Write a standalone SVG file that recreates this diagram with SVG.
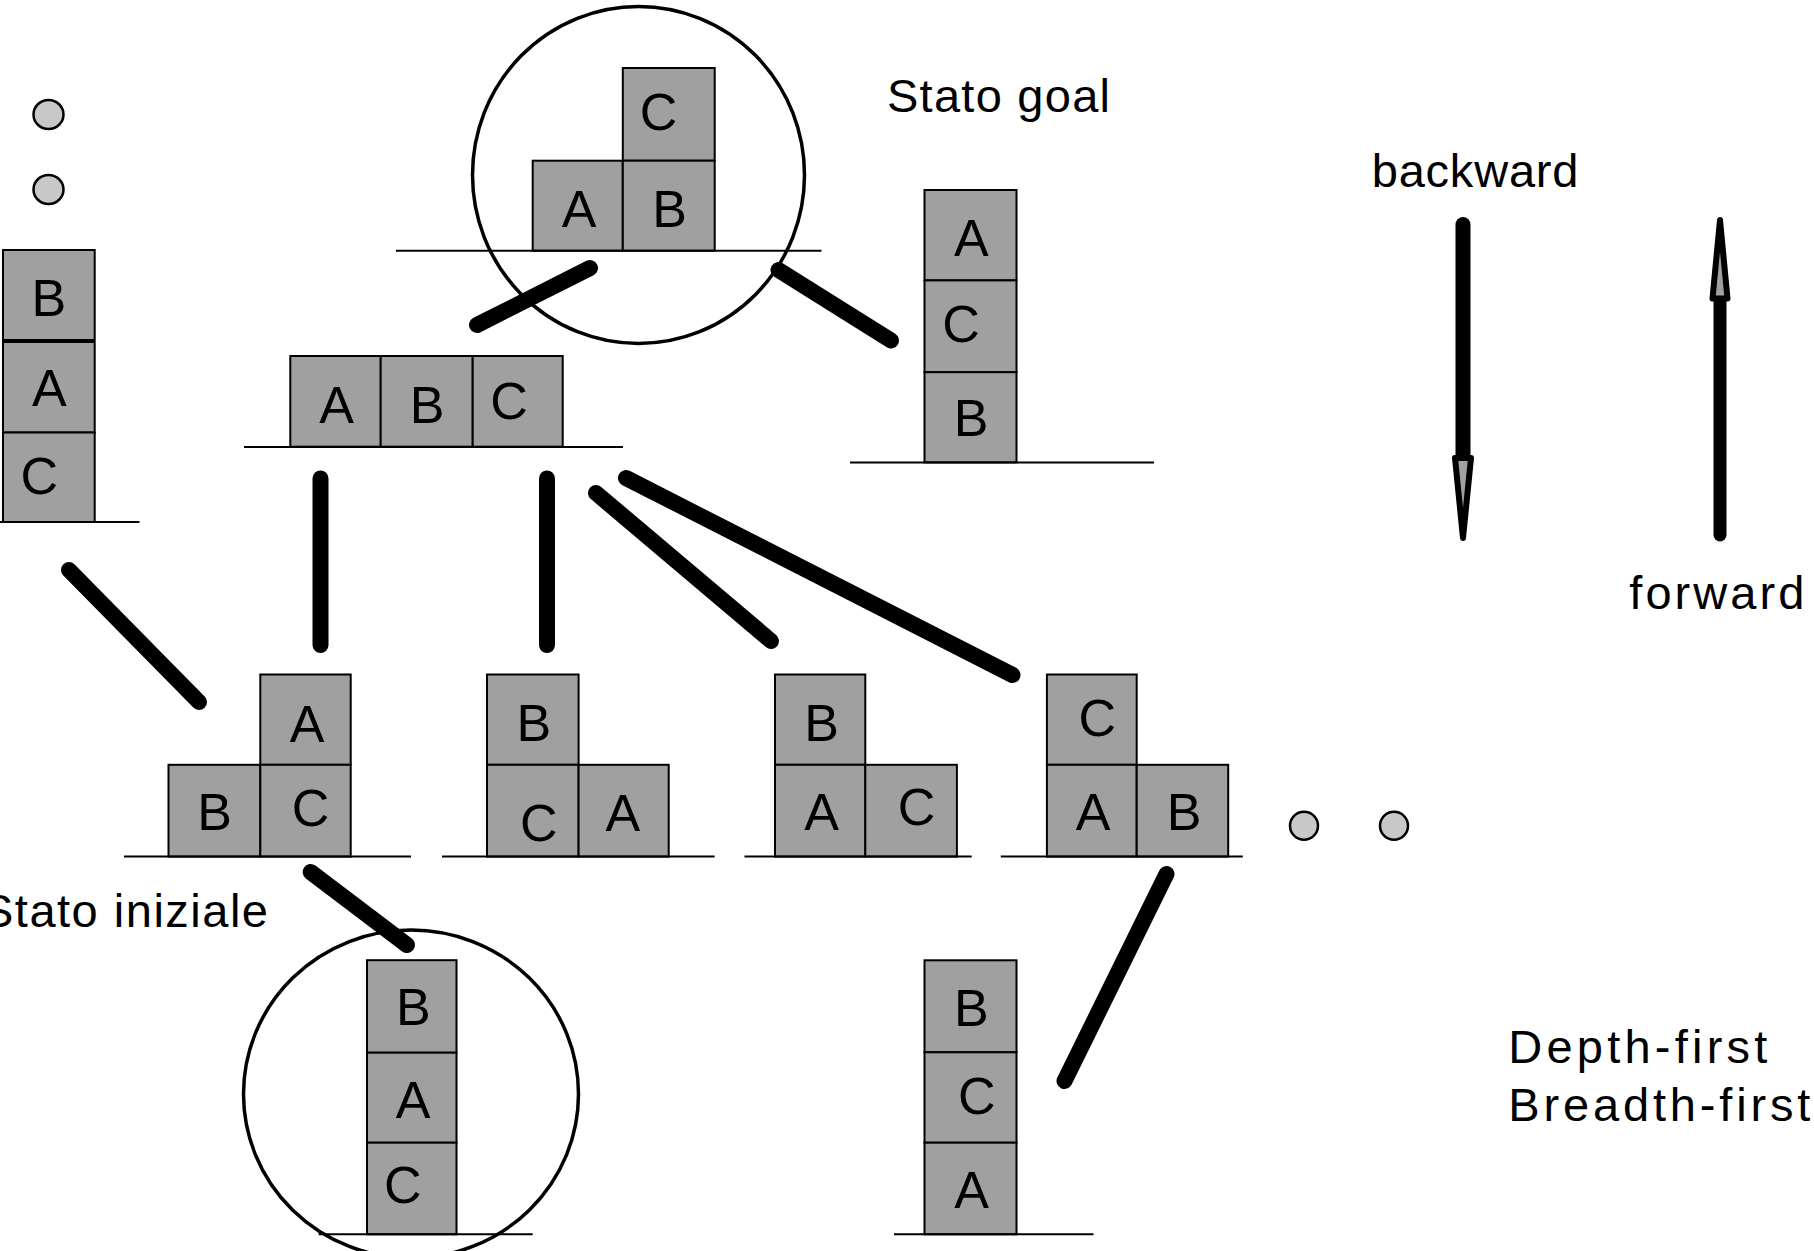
<svg xmlns="http://www.w3.org/2000/svg" width="1814" height="1251" viewBox="0 0 1814 1251">
<style>
.blk{fill:#a0a0a0;stroke:#000;stroke-width:2}
.gnd{stroke:#000;stroke-width:2;fill:none}
.let{font-family:"Liberation Sans",Arial,sans-serif;font-size:52px;fill:#000;text-anchor:middle}
.lbl{font-family:"Liberation Sans",Arial,sans-serif;font-size:47px;fill:#000}
.con{stroke:#000;stroke-width:16;stroke-linecap:round;fill:none}
.ring{fill:none;stroke:#000;stroke-width:3.5}
.dot{fill:#c8c8c8;stroke:#000;stroke-width:2.5}
.head{fill:#a0a0a0;stroke:#000;stroke-width:6;stroke-linejoin:round}
</style>
<rect width="1814" height="1251" fill="#fff"/>

<g id="connectors">
<line class="con" x1="590" y1="268" x2="477" y2="325"/>
<line class="con" x1="778.5" y1="270" x2="891" y2="340.5"/>
<line class="con" x1="69" y1="570" x2="199" y2="702"/>
<line class="con" x1="320.5" y1="478.5" x2="320.5" y2="645"/>
<line class="con" x1="547" y1="478.5" x2="547" y2="645"/>
<line class="con" x1="596" y1="493" x2="771" y2="641"/>
<line class="con" x1="626" y1="478" x2="1012.5" y2="675"/>
<line class="con" x1="310.6" y1="872" x2="407" y2="945"/>
<line class="con" x1="1166.5" y1="874" x2="1064.5" y2="1081"/>
</g>

<g id="dots-left">
<ellipse class="dot" cx="48.5" cy="114.5" rx="15" ry="14.5"/>
<ellipse class="dot" cx="48.5" cy="189.5" rx="15" ry="14.5"/>
</g>

<g id="stack-BAC-left">
<rect class="blk" x="3" y="250" width="91.7" height="90"/>
<rect class="blk" x="3" y="342" width="91.7" height="90.5"/>
<rect class="blk" x="3" y="432.5" width="91.7" height="89.5"/>
<line class="gnd" x1="0" y1="522" x2="139.5" y2="522"/>
<text class="let" x="48.8" y="316">B</text>
<text class="let" x="49.4" y="406.4">A</text>
<text class="let" x="39.3" y="493.5">C</text>
</g>

<g id="goal">
<ellipse class="ring" cx="638.5" cy="175" rx="166" ry="168.5"/>
<rect class="blk" x="622.8" y="68" width="91.9" height="92.7"/>
<rect class="blk" x="532.7" y="160.7" width="90.1" height="90"/>
<rect class="blk" x="622.8" y="160.7" width="91.9" height="90"/>
<line class="gnd" x1="396" y1="250.7" x2="821.5" y2="250.7"/>
<text class="let" x="658.5" y="130">C</text>
<text class="let" x="579" y="226.8">A</text>
<text class="let" x="669.7" y="226.8">B</text>
</g>

<g id="state-ABC">
<rect class="blk" x="290.3" y="356" width="90.4" height="90.7"/>
<rect class="blk" x="380.7" y="356" width="92" height="90.7"/>
<rect class="blk" x="472.7" y="356" width="90" height="90.7"/>
<line class="gnd" x1="244" y1="447" x2="623" y2="447"/>
<text class="let" x="336.7" y="422.7">A</text>
<text class="let" x="427" y="422.7">B</text>
<text class="let" x="509" y="418.5">C</text>
</g>

<g id="stack-ACB">
<rect class="blk" x="924.5" y="190" width="92" height="90.4"/>
<rect class="blk" x="924.5" y="280.4" width="92" height="91.8"/>
<rect class="blk" x="924.5" y="372.2" width="92" height="90.2"/>
<line class="gnd" x1="850" y1="462.5" x2="1154" y2="462.5"/>
<text class="let" x="971.4" y="256.3">A</text>
<text class="let" x="961" y="341.5">C</text>
<text class="let" x="971" y="436">B</text>
</g>

<g id="state-BC-A">
<rect class="blk" x="260.3" y="674.5" width="90.4" height="90.3"/>
<rect class="blk" x="168.5" y="764.8" width="91.8" height="91.8"/>
<rect class="blk" x="260.3" y="764.8" width="90.4" height="91.8"/>
<line class="gnd" x1="124" y1="856.6" x2="411" y2="856.6"/>
<text class="let" x="307.1" y="741.6">A</text>
<text class="let" x="214.7" y="829.7">B</text>
<text class="let" x="310.5" y="825.6">C</text>
</g>

<g id="state-B-CA">
<rect class="blk" x="487" y="674.5" width="91.6" height="90.3"/>
<rect class="blk" x="487" y="764.8" width="91.6" height="91.8"/>
<rect class="blk" x="578.6" y="764.8" width="90.1" height="91.8"/>
<line class="gnd" x1="442" y1="856.6" x2="714.6" y2="856.6"/>
<text class="let" x="533.9" y="740.7">B</text>
<text class="let" x="538.7" y="841">C</text>
<text class="let" x="622.8" y="831">A</text>
</g>

<g id="state-B-AC">
<rect class="blk" x="775" y="674.5" width="90.3" height="90.3"/>
<rect class="blk" x="775" y="764.8" width="90.3" height="91.8"/>
<rect class="blk" x="865.3" y="764.8" width="91.6" height="91.8"/>
<line class="gnd" x1="744.5" y1="856.6" x2="971.7" y2="856.6"/>
<text class="let" x="821.7" y="740.7">B</text>
<text class="let" x="821.7" y="829.7">A</text>
<text class="let" x="916.6" y="825.3">C</text>
</g>

<g id="state-C-AB">
<rect class="blk" x="1046.9" y="674.5" width="89.8" height="90.3"/>
<rect class="blk" x="1046.9" y="764.8" width="89.8" height="91.8"/>
<rect class="blk" x="1136.7" y="764.8" width="91.5" height="91.8"/>
<line class="gnd" x1="1000.8" y1="856.6" x2="1242.8" y2="856.6"/>
<text class="let" x="1097.3" y="735.6">C</text>
<text class="let" x="1093.2" y="830.2">A</text>
<text class="let" x="1184.2" y="830.2">B</text>
</g>

<g id="dots-right">
<ellipse class="dot" cx="1304" cy="825.7" rx="14" ry="14"/>
<ellipse class="dot" cx="1394" cy="825.7" rx="14" ry="14"/>
</g>

<g id="initial">
<ellipse class="ring" cx="411" cy="1094" rx="167.5" ry="164"/>
<rect class="blk" x="367" y="960.2" width="89.5" height="92.5"/>
<rect class="blk" x="367" y="1052.7" width="89.5" height="90"/>
<rect class="blk" x="367" y="1142.7" width="89.5" height="91.6"/>
<line class="gnd" x1="318.6" y1="1234.3" x2="532.7" y2="1234.3"/>
<text class="let" x="413.3" y="1025">B</text>
<text class="let" x="413" y="1117.5">A</text>
<text class="let" x="402.7" y="1203.3">C</text>
</g>

<g id="stack-BCA">
<rect class="blk" x="924.5" y="960.3" width="92" height="92"/>
<rect class="blk" x="924.5" y="1052.3" width="92" height="90.4"/>
<rect class="blk" x="924.5" y="1142.7" width="92" height="91.6"/>
<line class="gnd" x1="894" y1="1234.3" x2="1093.5" y2="1234.3"/>
<text class="let" x="971.4" y="1025.8">B</text>
<text class="let" x="976.7" y="1114.4">C</text>
<text class="let" x="971.5" y="1208.2">A</text>
</g>

<g id="arrow-backward">
<line x1="1463" y1="224.5" x2="1463" y2="460" stroke="#000" stroke-width="15" stroke-linecap="round"/>
<polygon class="head" points="1455,458 1471,458 1463,538"/>
</g>

<g id="arrow-forward">
<line x1="1720" y1="299" x2="1720" y2="535" stroke="#000" stroke-width="13" stroke-linecap="round"/>
<polygon class="head" points="1720,220 1712.5,298.5 1727.5,298.5"/>
</g>

<g id="labels">
<text class="lbl" x="887" y="111.7" textLength="223">Stato goal</text>
<text class="lbl" x="1371.7" y="187.3" textLength="206.7">backward</text>
<text class="lbl" x="1629.3" y="609.3" textLength="175">forward</text>
<text class="lbl" x="-18" y="926.7" textLength="286">Stato iniziale</text>
<text class="lbl" x="1508.3" y="1063.3" textLength="259">Depth-first</text>
<text class="lbl" x="1508.3" y="1120.7" textLength="302">Breadth-first</text>
</g>
</svg>
